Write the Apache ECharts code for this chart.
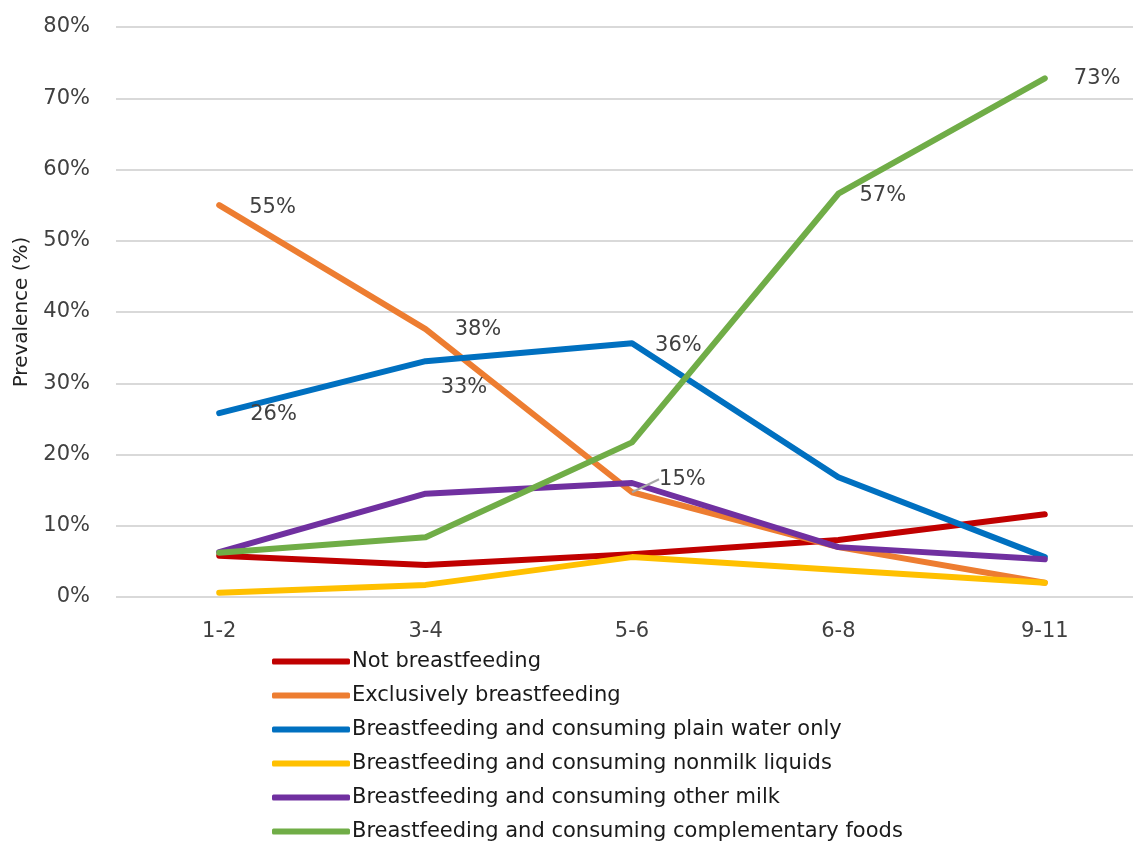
<!DOCTYPE html>
<html>
<head>
<meta charset="utf-8">
<script src="https://cdn.jsdelivr.net/npm/echarts@6.0.0/dist/echarts.min.js"></script>
<style>
  html, body { margin: 0; padding: 0; background: #fff; }
  #main { width: 1133px; height: 844px; }
</style>
</head>
<body>
<div id="main"></div>
<script>
const ages = ['1-2', '3-4', '5-6', '6-8', '9-11'];

const notBreastfeeding = [5.8, 4.5, 6.0, 8.0, 11.6];
const exclusive = [55.0, 37.6, 14.7, 7.0, 2.0];
const plainWater = [25.8, 33.1, 35.6, 16.8, 5.6];
const nonmilkLiquids = [0.6, 1.7, 5.6, 3.8, 2.0];
const otherMilk = [6.3, 14.5, 16.0, 7.0, 5.3];
const complementary = [6.2, 8.4, 21.7, 56.6, 72.8];

// which points carry a value label, and how far the label sits from the point
const exclusiveLabels = { 0: [25, 2], 1: [24, 0], 2: [22, -13] };
const plainWaterLabels = { 0: [26, 1], 1: [10, 26], 2: [18, 2] };
const complementaryLabels = { 3: [16, 2], 4: [24, 0] };

const textColor = '#404040';
const fontFamily = 'DejaVu Sans';

function withLabels(values, labels, guided) {
  return values.map((v, i) => {
    if (!labels[i]) return v;
    const item = {
      value: v,
      label: {
        show: true,
        position: 'right',
        offset: guided ? [0, 0] : labels[i],
        formatter: Math.round(v) + '%',
        color: textColor,
        fontSize: 21,
        fontFamily: fontFamily
      }
    };
    if (guided) item.labelLine = { show: guided.indexOf(i) >= 0 };
    return item;
  });
}

function makeSeries(name, color, data) {
  return {
    name: name,
    type: 'line',
    data: data,
    symbol: 'circle',
    symbolSize: 0.1,
    lineStyle: { color: color, width: 6, cap: 'round', join: 'round' },
    itemStyle: { color: color },
    emphasis: { disabled: true },
    animation: false
  };
}

// exclusive series labels are moved with labelLayout so the 15% one gets its guide line
const exclusiveSeries = makeSeries('Exclusively breastfeeding', '#ED7D31', withLabels(exclusive, exclusiveLabels, [2]));
exclusiveSeries.labelLayout = function (params) {
  const off = exclusiveLabels[params.dataIndex];
  return off ? { dx: off[0], dy: off[1] } : {};
};
exclusiveSeries.labelLine = { show: false, lineStyle: { color: '#a6a6a6', width: 2 } };

const chart = echarts.init(document.getElementById('main'));
chart.setOption({
  backgroundColor: '#fff',
  grid: { left: 116, width: 1032, top: 27, bottom: 247, outerBoundsMode: 'none' },
  legend: {
    orient: 'vertical',
    left: 272,
    top: 651,
    padding: 0,
    icon: 'roundRect',
    itemWidth: 78,
    itemHeight: 6,
    itemGap: 13,
    textStyle: { color: '#1a1a1a', fontSize: 21, fontFamily: fontFamily, padding: [0, 0, 0, -3] }
  },
  xAxis: {
    type: 'category',
    data: ages,
    boundaryGap: true,
    axisLine: { show: false },
    axisTick: { show: false },
    axisLabel: { color: textColor, fontSize: 21, fontFamily: fontFamily, margin: 24 }
  },
  yAxis: {
    type: 'value',
    min: 0,
    max: 80,
    interval: 10,
    name: 'Prevalence (%)',
    nameLocation: 'middle',
    nameGap: 84,
    nameTextStyle: { color: '#222', fontSize: 20, fontFamily: fontFamily },
    axisLabel: { color: textColor, fontSize: 21, fontFamily: fontFamily, formatter: '{value}%', margin: 26 },
    splitLine: { lineStyle: { color: '#d9d9d9', width: 2 } },
    axisLine: { show: false },
    axisTick: { show: false }
  },
  series: [
    makeSeries('Not breastfeeding', '#C00000', notBreastfeeding),
    exclusiveSeries,
    makeSeries('Breastfeeding and consuming plain water only', '#0070C0', withLabels(plainWater, plainWaterLabels)),
    makeSeries('Breastfeeding and consuming nonmilk liquids', '#FFC000', nonmilkLiquids),
    makeSeries('Breastfeeding and consuming other milk', '#7030A0', otherMilk),
    makeSeries('Breastfeeding and consuming complementary foods', '#70AD47', withLabels(complementary, complementaryLabels))
  ]
});
</script>
</body>
</html>
